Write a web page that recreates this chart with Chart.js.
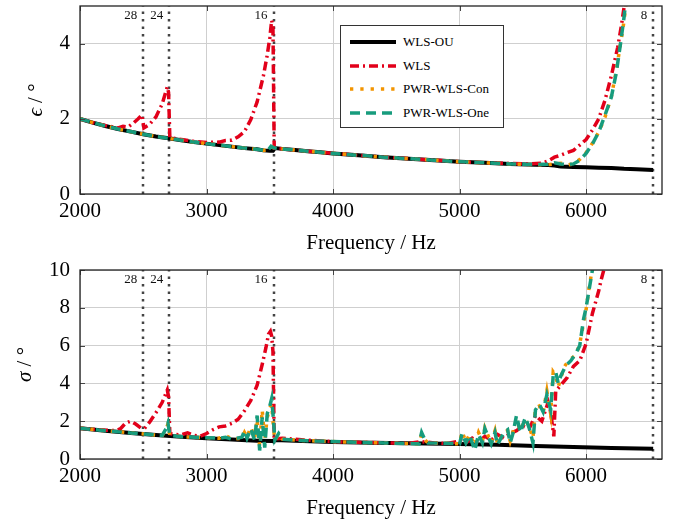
<!DOCTYPE html>
<html>
<head>
<meta charset="utf-8">
<script src="https://cdn.jsdelivr.net/npm/chart.js@4.4.0/dist/chart.umd.min.js"></script>
<style>
    body {
        margin: 0;
        background: #fff;
        width: 681px;
        height: 522px;
        overflow: hidden;
        position: relative;
        font-family: "Liberation Serif", "DejaVu Serif", serif;
    }
    #epsChart { position: absolute; left: 0; top: 0; }
    #sigChart { position: absolute; left: 0; top: 260px; }
    .legend {
        position: absolute;
        left: 340px;
        top: 25px;
        width: 162px;
        height: 101px;
        border: 1px solid #333;
        background: #fff;
        z-index: 2;
    }
    .legend .row {
        position: absolute;
        left: 0;
        height: 20px;
        line-height: 20px;
        font-size: 13px;
        color: #000;
    }
    .legend svg { position: absolute; left: 9px; top: 6px; }
    .legend span { position: absolute; left: 62px; white-space: nowrap; }
</style>
</head>
<body>
<canvas id="epsChart" width="681" height="260"></canvas>
<canvas id="sigChart" width="681" height="262"></canvas>
<div class="legend" id="legend"></div>

<script>
// === DATA ===
const seriesNames = ['WLS-OU', 'WLS', 'PWR-WLS-Con', 'PWR-WLS-One'];
const xTitle = 'Frequency / Hz';
const xTicks = [2000, 3000, 4000, 5000, 6000];
const epsTicks = [0, 2, 4];
const sigTicks = [0, 2, 4, 6, 8, 10];

// vertical markers (mode numbers)
const modeFreqs = [2500, 2705, 3530, 6530];
const modeLabels = ['28', '24', '16', '8'];

// --- upper plot: epsilon ---
const epsFreqOU = [2000, 2100, 2200, 2300, 2400, 2500, 2600, 2700, 2800, 2900, 3000, 3100, 3200, 3300, 3400, 3450, 3500, 3525, 3540, 3600, 3700, 3800, 3900, 4000, 4200, 4400, 4600, 4800, 5000, 5200, 5400, 5600, 5700, 5750, 5800, 5900, 6000, 6100, 6200, 6300, 6400, 6530];
const epsOU = [2.00, 1.90, 1.81, 1.73, 1.66, 1.59, 1.53, 1.48, 1.43, 1.38, 1.34, 1.30, 1.26, 1.22, 1.19, 1.16, 1.15, 1.15, 1.22, 1.20, 1.17, 1.14, 1.11, 1.08, 1.03, 0.98, 0.94, 0.90, 0.86, 0.83, 0.80, 0.78, 0.77, 0.76, 0.73, 0.72, 0.71, 0.70, 0.69, 0.67, 0.66, 0.64];

const epsFreqWLS = [2000, 2100, 2200, 2300, 2340, 2380, 2420, 2460, 2490, 2505, 2550, 2600, 2650, 2690, 2700, 2710, 2800, 2900, 3000, 3100, 3150, 3200, 3250, 3300, 3350, 3400, 3450, 3480, 3500, 3515, 3525, 3535, 3600, 3700, 3800, 3900, 4000, 4200, 4400, 4600, 4800, 5000, 5200, 5400, 5550, 5650, 5700, 5750, 5800, 5850, 5900, 5950, 6000, 6050, 6100, 6150, 6200, 6250, 6280, 6310];
const epsWLS = [2.00, 1.90, 1.82, 1.76, 1.80, 1.78, 1.88, 2.00, 2.10, 1.76, 1.85, 2.05, 2.40, 2.85, 2.70, 1.50, 1.45, 1.40, 1.37, 1.38, 1.42, 1.43, 1.52, 1.66, 1.98, 2.45, 3.15, 3.70, 4.15, 4.62, 4.45, 1.22, 1.20, 1.17, 1.14, 1.11, 1.08, 1.03, 0.98, 0.94, 0.90, 0.86, 0.83, 0.81, 0.80, 0.82, 0.88, 0.98, 1.03, 1.10, 1.16, 1.30, 1.45, 1.70, 2.00, 2.50, 3.15, 3.90, 4.50, 5.20];

const epsFreqPWR = [2000, 2100, 2200, 2300, 2400, 2500, 2600, 2700, 2800, 2900, 3000, 3100, 3200, 3300, 3400, 3450, 3490, 3510, 3525, 3540, 3600, 3700, 3800, 3900, 4000, 4200, 4400, 4600, 4800, 5000, 5200, 5400, 5600, 5700, 5750, 5800, 5850, 5900, 5950, 6000, 6050, 6100, 6150, 6200, 6240, 6270, 6300, 6320];
const epsCon = [2.00, 1.90, 1.81, 1.73, 1.66, 1.59, 1.53, 1.48, 1.43, 1.38, 1.34, 1.30, 1.26, 1.22, 1.19, 1.16, 1.18, 1.26, 1.24, 1.22, 1.20, 1.17, 1.14, 1.11, 1.08, 1.03, 0.98, 0.94, 0.90, 0.86, 0.83, 0.80, 0.78, 0.78, 0.80, 0.82, 0.77, 0.80, 0.92, 1.10, 1.35, 1.65, 2.05, 2.60, 3.30, 3.95, 4.60, 5.20];
const epsOne = [2.00, 1.90, 1.81, 1.73, 1.66, 1.59, 1.53, 1.48, 1.43, 1.38, 1.34, 1.30, 1.26, 1.22, 1.19, 1.16, 1.18, 1.27, 1.24, 1.22, 1.20, 1.17, 1.14, 1.11, 1.08, 1.03, 0.98, 0.94, 0.90, 0.86, 0.83, 0.80, 0.78, 0.79, 0.83, 0.80, 0.78, 0.80, 0.90, 1.08, 1.33, 1.65, 2.10, 2.58, 3.25, 3.95, 4.70, 5.30];

// --- lower plot: sigma ---
const sigFreqOU = [2000, 2200, 2400, 2600, 2800, 3000, 3200, 3400, 3520, 3540, 3700, 4000, 4300, 4600, 5000, 5300, 5600, 5900, 6200, 6530];
const sigOU = [1.63, 1.50, 1.38, 1.27, 1.18, 1.10, 1.03, 0.97, 0.95, 1.00, 0.96, 0.90, 0.86, 0.83, 0.80, 0.75, 0.69, 0.63, 0.58, 0.54];

const sigFreqWLS = [2000, 2100, 2200, 2280, 2320, 2360, 2400, 2440, 2480, 2510, 2550, 2600, 2650, 2690, 2700, 2710, 2750, 2800, 2850, 2900, 2950, 3000, 3050, 3100, 3150, 3200, 3250, 3300, 3350, 3400, 3440, 3470, 3490, 3505, 3515, 3525, 3535, 3600, 3700, 3800, 3900, 4000, 4200, 4400, 4600, 4700, 4800, 4900, 5000, 5050, 5100, 5150, 5200, 5250, 5300, 5350, 5400, 5450, 5500, 5550, 5600, 5650, 5700, 5720, 5745, 5760, 5800, 5850, 5900, 5950, 6000, 6050, 6100, 6120, 6160];
const sigWLS = [1.63, 1.57, 1.52, 1.50, 1.60, 1.90, 2.00, 1.85, 1.65, 1.62, 1.95, 2.45, 3.00, 3.65, 3.30, 1.35, 1.30, 1.28, 1.38, 1.25, 1.20, 1.35, 1.55, 1.70, 1.75, 1.88, 2.10, 2.55, 3.10, 3.90, 5.00, 5.90, 6.60, 6.75, 6.50, 5.70, 1.05, 1.10, 1.05, 1.00, 0.95, 0.92, 0.88, 0.86, 0.83, 0.92, 0.85, 0.82, 0.95, 0.85, 1.10, 0.90, 1.20, 1.00, 1.30, 1.10, 1.35, 1.50, 1.75, 1.60, 2.30, 2.00, 3.00, 2.50, 1.20, 3.60, 3.90, 4.30, 4.90, 5.20, 6.10, 7.70, 8.90, 9.50, 10.5];

const sigFreqPWR = [2000, 2200, 2400, 2600, 2650, 2680, 2695, 2710, 2800, 3000, 3100, 3150, 3200, 3280, 3300, 3320, 3350, 3380, 3400, 3420, 3440, 3460, 3480, 3500, 3515, 3530, 3540, 3570, 3600, 3700, 3800, 4000, 4200, 4400, 4600, 4680, 4700, 4720, 4750, 4900, 5000, 5020, 5050, 5080, 5120, 5150, 5180, 5200, 5250, 5280, 5300, 5350, 5380, 5400, 5420, 5450, 5480, 5520, 5550, 5580, 5600, 5630, 5660, 5690, 5720, 5740, 5760, 5780, 5800, 5830, 5850, 5880, 5920, 5950, 5980, 6000, 6020, 6040, 6060];
const sigCon = [1.63, 1.50, 1.38, 1.27, 1.25, 1.55, 1.85, 1.25, 1.18, 1.12, 1.10, 1.25, 1.05, 1.10, 1.40, 1.15, 1.70, 1.10, 2.10, 0.70, 2.60, 1.00, 2.20, 2.70, 2.90, 1.60, 1.00, 1.30, 1.05, 1.00, 0.97, 0.92, 0.88, 0.85, 0.82, 0.80, 1.30, 1.05, 0.85, 0.83,
    0.80, 1.45, 0.90, 1.30, 0.70, 1.40, 0.95, 1.65, 0.85, 1.50, 0.80, 1.45, 1.50, 0.95, 1.40, 2.10, 1.50, 2.10, 1.70, 1.10, 2.70, 2.80, 2.45, 3.60, 2.40, 4.60, 4.40, 3.80, 4.30, 4.90, 5.10, 5.30, 5.50, 6.10, 7.20, 7.90, 8.90, 9.70, 10.5];
const sigOne = [1.63, 1.50, 1.38, 1.27, 1.25, 1.60, 1.90, 1.25, 1.18, 1.12, 1.10, 1.15, 1.05, 1.15, 1.50, 1.10, 1.60, 1.00, 2.30, 0.45, 2.20, 0.60, 2.40, 2.80, 3.20, 2.00, 1.00, 1.35, 1.05, 1.00, 0.97, 0.92, 0.88, 0.85, 0.82, 0.80, 1.40, 1.10, 0.85, 0.83,
    0.80, 1.35, 0.85, 1.25, 0.45, 1.30, 0.85, 1.60, 0.80, 1.40, 0.75, 1.40, 1.55, 0.85, 1.30, 2.30, 1.40, 2.20, 1.65, 0.85, 2.60, 2.90, 2.50, 3.40, 2.60, 4.40, 4.60, 4.00, 4.40, 4.80, 5.00, 5.20, 5.60, 6.00, 7.40, 8.00, 8.80, 9.60, 10.4];

// === STYLE ===
const FONT = '"Liberation Serif", "DejaVu Serif", serif';
const COLORS = ['#000000', '#e2001a', '#f29400', '#179c7d'];
const WIDTHS = [4, 3.5, 3.5, 3.5];
const DASHES = [[], [9, 4, 2, 4], [3.3, 7], [10, 6]];

function toPoints(xs, ys) {
    return xs.map((x, i) => ({ x: x, y: ys[i] }));
}

function buildDatasets(series) {
    // order: teal on top, black at the bottom
    return series.map((s, i) => ({
        label: seriesNames[i],
        data: toPoints(s[0], s[1]),
        borderColor: COLORS[i],
        borderWidth: WIDTHS[i],
        borderDash: DASHES[i],
        borderCapStyle: 'butt',
        pointRadius: 0,
        tension: 0,
        fill: false,
        clip: 0,
        order: 4 - i
    }));
}

// === PLUGIN: frame, inner ticks, mode lines, y title ===
const framePlugin = {
    id: 'frame',
    beforeDatasetsDraw(chart) {
        const { ctx, chartArea: a, scales: { x } } = chart;
        ctx.save();
        ctx.strokeStyle = '#444';
        ctx.lineWidth = 2.5;
        ctx.setLineDash([2.5, 5]);
        modeFreqs.forEach(f => {
            const px = Math.round(x.getPixelForValue(f));
            ctx.beginPath();
            ctx.moveTo(px, a.bottom);
            ctx.lineTo(px, a.top);
            ctx.stroke();
        });
        ctx.setLineDash([]);
        ctx.fillStyle = '#111';
        ctx.font = '13px ' + FONT;
        ctx.textAlign = 'right';
        ctx.textBaseline = 'middle';
        modeFreqs.forEach((f, i) => {
            ctx.fillText(modeLabels[i], x.getPixelForValue(f) - 6, a.top + 10);
        });
        ctx.restore();
    },
    afterDatasetsDraw(chart) {
        const { ctx, chartArea: a, scales: { x, y } } = chart;
        ctx.save();
        ctx.strokeStyle = '#444';
        ctx.lineWidth = 1;
        x.ticks.forEach(t => {
            const px = Math.round(x.getPixelForValue(t.value)) + 0.5;
            ctx.beginPath();
            ctx.moveTo(px, a.bottom); ctx.lineTo(px, a.bottom - 5);
            ctx.moveTo(px, a.top); ctx.lineTo(px, a.top + 5);
            ctx.stroke();
        });
        y.ticks.forEach(t => {
            const py = Math.round(y.getPixelForValue(t.value)) + 0.5;
            ctx.beginPath();
            ctx.moveTo(a.left, py); ctx.lineTo(a.left + 5, py);
            ctx.moveTo(a.right, py); ctx.lineTo(a.right - 5, py);
            ctx.stroke();
        });
        ctx.strokeStyle = '#222';
        ctx.lineWidth = 1.3;
        ctx.strokeRect(a.left, a.top, a.right - a.left, a.bottom - a.top);
        ctx.restore();
    },
    afterDraw(chart, args, opts) {
        const { ctx, chartArea: a } = chart;
        const rest = ' / °';
        ctx.save();
        ctx.fillStyle = '#000';
        ctx.font = 'italic 21px ' + FONT;
        const w1 = ctx.measureText(opts.symbol).width;
        ctx.font = '21px ' + FONT;
        const w2 = ctx.measureText(rest).width;
        ctx.translate(opts.titleX, (a.top + a.bottom) / 2);
        ctx.rotate(-Math.PI / 2);
        ctx.textAlign = 'left';
        ctx.textBaseline = 'middle';
        const start = -(w1 + w2) / 2;
        ctx.font = 'italic 21px ' + FONT;
        ctx.fillText(opts.symbol, start, 0);
        ctx.font = '21px ' + FONT;
        ctx.fillText(rest, start + w1, 0);
        ctx.restore();
    }
};

// === CHART FACTORY ===
function makeChart(canvasId, series, cfg) {
    const ctx = document.getElementById(canvasId).getContext('2d');
    const tickFont = { family: FONT, size: 21 };
    return new Chart(ctx, {
        type: 'line',
        data: { datasets: buildDatasets(series) },
        plugins: [framePlugin],
        options: {
            responsive: false,
            animation: false,
            devicePixelRatio: 1,
            layout: { padding: { left: 0, right: 19, top: cfg.padTop, bottom: 0 } },
            plugins: {
                legend: { display: false },
                tooltip: { enabled: false },
                frame: { symbol: cfg.symbol, titleX: cfg.titleX }
            },
            scales: {
                x: {
                    type: 'linear',
                    min: 2000,
                    max: 6600,
                    afterBuildTicks: s => { s.ticks = xTicks.map(v => ({ value: v })); },
                    afterFit: s => { s.height = cfg.xHeight; s.paddingLeft = 0; s.paddingRight = 0; },
                    ticks: {
                        maxRotation: 0,
                        autoSkip: false,
                        padding: 5,
                        color: '#000',
                        font: tickFont,
                        callback: v => String(v)
                    },
                    grid: { color: '#cfcfcf', lineWidth: 1, drawTicks: false },
                    border: { display: false },
                    title: {
                        display: true,
                        text: xTitle,
                        color: '#000',
                        font: tickFont,
                        padding: { top: 0, bottom: cfg.titlePad }
                    }
                },
                y: {
                    min: 0,
                    max: cfg.yMax,
                    afterBuildTicks: s => { s.ticks = cfg.yTicks.map(v => ({ value: v })); },
                    afterFit: s => { s.width = 80; s.paddingTop = 0; s.paddingBottom = 0; },
                    ticks: {
                        autoSkip: false,
                        padding: 10,
                        color: '#000',
                        font: tickFont,
                        callback: v => String(v)
                    },
                    grid: { color: '#cfcfcf', lineWidth: 1, drawTicks: false },
                    border: { display: false }
                }
            }
        }
    });
}

// === LEGEND ===
function buildLegend() {
    const box = document.getElementById('legend');
    const rowCenters = [16, 40, 63, 87];
    seriesNames.forEach((name, i) => {
        const row = document.createElement('div');
        row.className = 'row';
        row.style.top = (rowCenters[i] - 10) + 'px';
        const dash = DASHES[i].length ? ` stroke-dasharray="${DASHES[i].join(' ')}"` : '';
        row.innerHTML = `<svg width="46" height="8"><line x1="0" y1="4" x2="46" y2="4" stroke="${COLORS[i]}" stroke-width="${WIDTHS[i]}"${dash}/></svg><span>${name}</span>`;
        box.appendChild(row);
    });
}

// === INIT ===
makeChart('epsChart', [[epsFreqOU, epsOU], [epsFreqWLS, epsWLS], [epsFreqPWR, epsCon], [epsFreqPWR, epsOne]], {
    yMax: 5, yTicks: epsTicks, padTop: 6, xHeight: 66, titlePad: 4, symbol: '\u03F5', titleX: 36
});
makeChart('sigChart', [[sigFreqOU, sigOU], [sigFreqWLS, sigWLS], [sigFreqPWR, sigCon], [sigFreqPWR, sigOne]], {
    yMax: 10, yTicks: sigTicks, padTop: 10, xHeight: 63, titlePad: 1, symbol: '\u03C3', titleX: 25
});
buildLegend();
</script>
</body>
</html>
